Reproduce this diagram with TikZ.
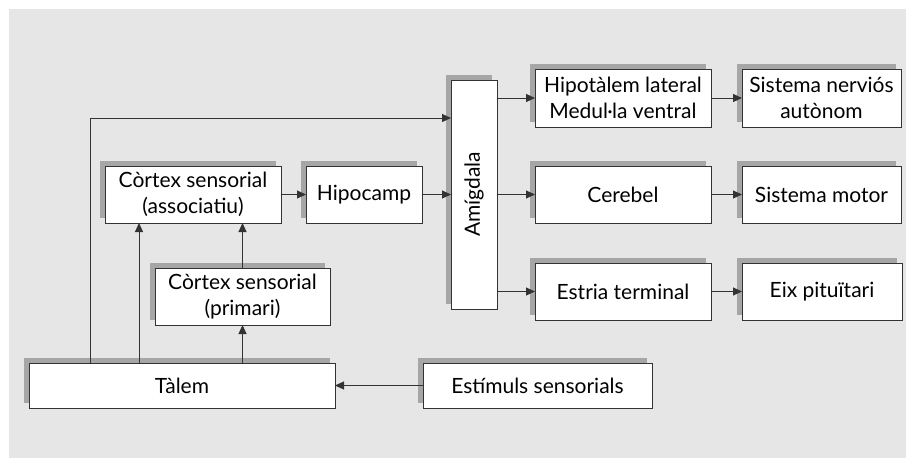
\documentclass[tikz,border=0pt]{standalone}
\usepackage{fontspec}
\setmainfont{Lato}
\usepackage{tikz}
\usetikzlibrary{positioning, calc, arrows.meta, shadows}
\definecolor{panel}{HTML}{E6E6E6}
\definecolor{shade}{HTML}{A6A6A6}
\definecolor{ink}{HTML}{333333}

\begin{document}
\begin{tikzpicture}[x=1pt, y=-1pt,
        blk/.style={draw=ink, line width=1pt, fill=white, inner sep=0pt, outer sep=0pt,
            align=center, text=black, font=\fontsize{21}{26}\selectfont,
            general shadow={fill=shade, shadow xshift=-5pt, shadow yshift=5pt}},
        arr/.style={-{Triangle[length=9pt, width=8pt]}, draw=ink, line width=1pt}]
            \useasboundingbox (0,0) rectangle (906,458);
            \fill[panel] (9,9) rectangle (906,458);

            % left column
            \node[blk, minimum width=306pt, minimum height=45pt] (Tal) at (182,385.5) {Tàlem};
            \node[blk, minimum width=229pt, minimum height=45pt] (Est) at (537.5,385.5) {Estímuls sensorials};
            \node[blk, minimum width=176pt, minimum height=57pt] (CsA) at (193,194.5) {Còrtex sensorial\\(associatiu)};
            \node[blk, minimum width=175pt, minimum height=57pt] (CsP) at (242.5,296.5) {Còrtex sensorial\\(primari)};
            \node[blk, minimum width=116pt, minimum height=57pt] (Hip) at (364,194.5) {Hipocamp};

            % amygdala
            \node[blk, minimum width=46pt, minimum height=229pt] (Amg) at (474,194.5) {};
            \node[rotate=90, text=black, font=\fontsize{21}{26}\selectfont] at (Amg) {Amígdala};

            % outputs
            \node[blk, minimum width=176pt, minimum height=58pt] (HL) at (623,98) {Hipotàlem lateral\\Medul·la ventral};
            \node[blk, minimum width=176pt, minimum height=57pt] (Cb) at (623,194.5) {Cerebel};
            \node[blk, minimum width=176pt, minimum height=57pt] (ET) at (623,291.5) {Estria terminal};
            \node[blk, minimum width=159pt, minimum height=58pt] (SN) at (821.5,98) {Sistema nerviós\\autònom};
            \node[blk, minimum width=159pt, minimum height=57pt] (SM) at (821.5,194.5) {Sistema motor};
            \node[blk, minimum width=160pt, minimum height=57pt] (EP) at (822,291.5) {Eix pituïtari};

            \coordinate (bend) at (90,118);
            \coordinate (up) at (139,0);

            \draw[arr] (Est) -- (Tal);
            \draw[arr] (Tal.north -| bend) |- (Amg.west |- bend);
            \draw[arr] (Tal.north -| up) -- (CsA.south -| up);
            \draw[arr] (Tal.north -| CsP) -- (CsP);
            \draw[arr] (CsP) -- (CsA.south -| CsP);
            \draw[arr] (CsA) -- (Hip);
            \draw[arr] (Hip) -- (Amg.west |- Hip);
            \draw[arr] (Amg.east |- HL) -- (HL);
            \draw[arr] (Amg.east |- Cb) -- (Cb);
            \draw[arr] (Amg.east |- ET) -- (ET);
            \draw[arr] (HL) -- (SN);
            \draw[arr] (Cb) -- (SM);
            \draw[arr] (ET) -- (EP);
        \end{tikzpicture}
\end{document}
